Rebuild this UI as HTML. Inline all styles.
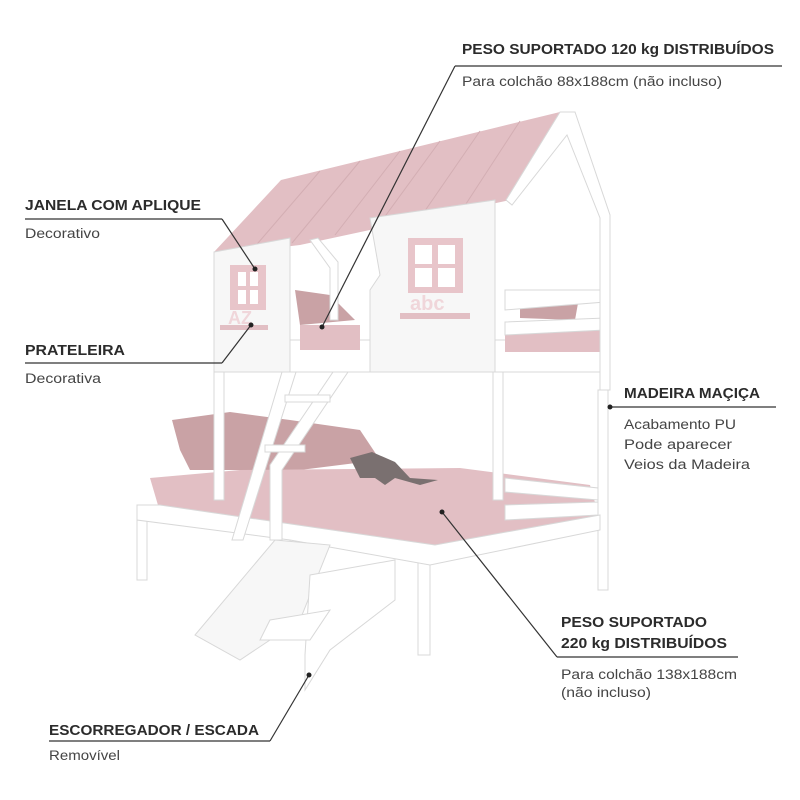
<!DOCTYPE html>
<html><head><meta charset="utf-8"><style>
html,body{margin:0;padding:0;background:#fff;width:800px;height:800px;overflow:hidden}
svg{display:block}
.h{font-family:"Liberation Sans",sans-serif;font-weight:bold;font-size:14.5px;fill:#2b2b2b}
.s{font-family:"Liberation Sans",sans-serif;font-size:13.5px;fill:#444}
.w{fill:#fff;stroke:#d8d8d8;stroke-width:1}
.g{fill:#f7f7f7;stroke:#d8d8d8;stroke-width:1}
.p{fill:#e2bfc4}
.pd{fill:#c9a2a5}
.l{stroke:#333;stroke-width:1.2;fill:none}
</style></head><body>
<svg width="800" height="800" viewBox="0 0 800 800" xmlns="http://www.w3.org/2000/svg">
<!-- lower bed -->
<rect class="w" x="137" y="505" width="10" height="75"/>
<rect class="w" x="282" y="505" width="8" height="40"/>
<rect class="w" x="418" y="545" width="12" height="110"/>
<rect class="w" x="598" y="390" width="10" height="200"/>
<polygon class="pd" points="172,420 230,412 290,420 360,430 380,460 300,470 190,470 180,450"/>
<polygon class="p" points="150,478 240,470 460,468 590,485 600,520 440,548 160,512"/>
<polygon class="w" points="137,505 160,505 435,545 600,515 600,530 430,565 290,540 137,520"/>
<polygon class="w" points="505,478 598,488 598,500 505,492"/>
<polygon class="w" points="505,505 598,502 598,515 505,520"/>
<polygon fill="#7a7070" points="350,458 372,452 395,462 410,478 438,480 420,485 395,478 385,485 375,478 360,478"/>
<!-- slide/stairs -->
<polygon class="g" points="275,540 330,545 300,620 240,660 195,635"/>
<polygon class="w" points="310,575 395,560 395,600 330,650 305,690 305,655"/>
<polygon class="w" points="270,620 330,610 310,640 260,640"/>
<!-- upper posts -->
<rect class="w" x="214" y="370" width="10" height="130"/>
<rect class="w" x="493" y="370" width="10" height="130"/>
<!-- upper bed base -->
<rect class="w" x="214" y="340" width="390" height="32"/>
<rect class="p" x="300" y="325" width="60" height="25"/>
<rect class="p" x="505" y="330" width="95" height="22"/>
<polygon class="pd" points="295,290 330,295 355,320 300,325"/>
<polygon class="pd" points="520,290 580,292 575,320 520,318"/>
<polygon class="w" points="505,290 605,290 605,302 505,310"/>
<polygon class="w" points="505,322 605,318 605,330 505,335"/>
<!-- roof -->
<polygon class="p" points="214,252 281,180 560,112 510,200 300,245 240,252"/>
<g stroke="#d3aeb3" stroke-width="1">
<line x1="320" y1="171" x2="252" y2="250"/><line x1="360" y1="161" x2="292" y2="243"/>
<line x1="400" y1="151" x2="335" y2="235"/><line x1="440" y1="141" x2="378" y2="226"/>
<line x1="480" y1="131" x2="420" y2="218"/><line x1="520" y1="121" x2="462" y2="210"/>
</g>
<polygon class="w" points="560,112 575,112 610,215 610,390 600,390 600,218 567,135 512,205 506,200"/>
<!-- walls -->
<polygon class="g" points="214,252 290,238 290,372 214,372"/>
<polygon class="g" points="370,218 495,200 495,372 370,372 370,290 380,275"/>
<polygon class="w" points="310,240 318,238 338,262 338,320 330,320 330,268"/>
<!-- windows -->
<rect x="230" y="265" width="36" height="45" fill="#e8c5ca"/>
<rect x="238" y="272" width="8" height="14" fill="#fff"/><rect x="250" y="272" width="8" height="14" fill="#fff"/>
<rect x="238" y="290" width="8" height="14" fill="#fff"/><rect x="250" y="290" width="8" height="14" fill="#fff"/>
<rect x="220" y="325" width="48" height="5" fill="#e2bfc4"/>
<text x="228" y="324" font-family="Liberation Sans" font-size="18" fill="#f0d6da" font-weight="bold">AZ</text>
<rect x="408" y="238" width="55" height="55" fill="#e8c5ca"/>
<rect x="415" y="245" width="17" height="19" fill="#fff"/><rect x="438" y="245" width="17" height="19" fill="#fff"/>
<rect x="415" y="268" width="17" height="19" fill="#fff"/><rect x="438" y="268" width="17" height="19" fill="#fff"/>
<text x="410" y="310" font-family="Liberation Sans" font-size="20" fill="#f0d6da" font-weight="bold">abc</text>
<rect x="400" y="313" width="70" height="6" fill="#e2bfc4"/>
<!-- ladder -->
<polygon class="w" points="282,372 296,372 243,540 232,540"/>
<polygon class="w" points="333,372 348,372 282,470 282,540 270,540 270,465"/>
<rect class="w" x="285" y="395" width="45" height="7"/>
<rect class="w" x="265" y="445" width="40" height="7"/>

<!-- labels -->
<text class="h" x="462" y="54" textLength="312" lengthAdjust="spacingAndGlyphs">PESO SUPORTADO 120 kg DISTRIBUÍDOS</text>
<line class="l" x1="455" y1="66" x2="782" y2="66"/>
<line class="l" x1="455" y1="66" x2="322" y2="327"/>
<circle cx="322" cy="327" r="2.5" fill="#222"/>
<text class="s" x="462" y="86" textLength="260" lengthAdjust="spacingAndGlyphs">Para colchão 88x188cm (não incluso)</text>

<text class="h" x="25" y="210" textLength="176" lengthAdjust="spacingAndGlyphs">JANELA COM APLIQUE</text>
<line class="l" x1="25" y1="219" x2="222" y2="219"/>
<line class="l" x1="222" y1="219" x2="255" y2="269"/>
<circle cx="255" cy="269" r="2.5" fill="#222"/>
<text class="s" x="25" y="238" textLength="75" lengthAdjust="spacingAndGlyphs">Decorativo</text>

<text class="h" x="25" y="355" textLength="100" lengthAdjust="spacingAndGlyphs">PRATELEIRA</text>
<line class="l" x1="25" y1="363" x2="222" y2="363"/>
<line class="l" x1="222" y1="363" x2="251" y2="325"/>
<circle cx="251" cy="325" r="2.5" fill="#222"/>
<text class="s" x="25" y="383" textLength="76" lengthAdjust="spacingAndGlyphs">Decorativa</text>

<text class="h" x="624" y="398" textLength="136" lengthAdjust="spacingAndGlyphs">MADEIRA MAÇIÇA</text>
<line class="l" x1="610" y1="407" x2="776" y2="407"/>
<circle cx="610" cy="407" r="2.5" fill="#222"/>
<text class="s" x="624" y="429" textLength="112" lengthAdjust="spacingAndGlyphs">Acabamento PU</text>
<text class="s" x="624" y="449" textLength="108" lengthAdjust="spacingAndGlyphs">Pode aparecer</text>
<text class="s" x="624" y="469" textLength="126" lengthAdjust="spacingAndGlyphs">Veios da Madeira</text>

<text class="h" x="561" y="627" textLength="146" lengthAdjust="spacingAndGlyphs">PESO SUPORTADO</text>
<text class="h" x="561" y="648" textLength="166" lengthAdjust="spacingAndGlyphs">220 kg DISTRIBUÍDOS</text>
<line class="l" x1="557" y1="657" x2="738" y2="657"/>
<line class="l" x1="557" y1="657" x2="442" y2="512"/>
<circle cx="442" cy="512" r="2.5" fill="#222"/>
<text class="s" x="561" y="679" textLength="176" lengthAdjust="spacingAndGlyphs">Para colchão 138x188cm</text>
<text class="s" x="561" y="697" textLength="90" lengthAdjust="spacingAndGlyphs">(não incluso)</text>

<text class="h" x="49" y="735" textLength="210" lengthAdjust="spacingAndGlyphs">ESCORREGADOR / ESCADA</text>
<line class="l" x1="49" y1="741" x2="270" y2="741"/>
<line class="l" x1="270" y1="741" x2="309" y2="675"/>
<circle cx="309" cy="675" r="2.5" fill="#222"/>
<text class="s" x="49" y="760" textLength="71" lengthAdjust="spacingAndGlyphs">Removível</text>
</svg>
</body></html>
